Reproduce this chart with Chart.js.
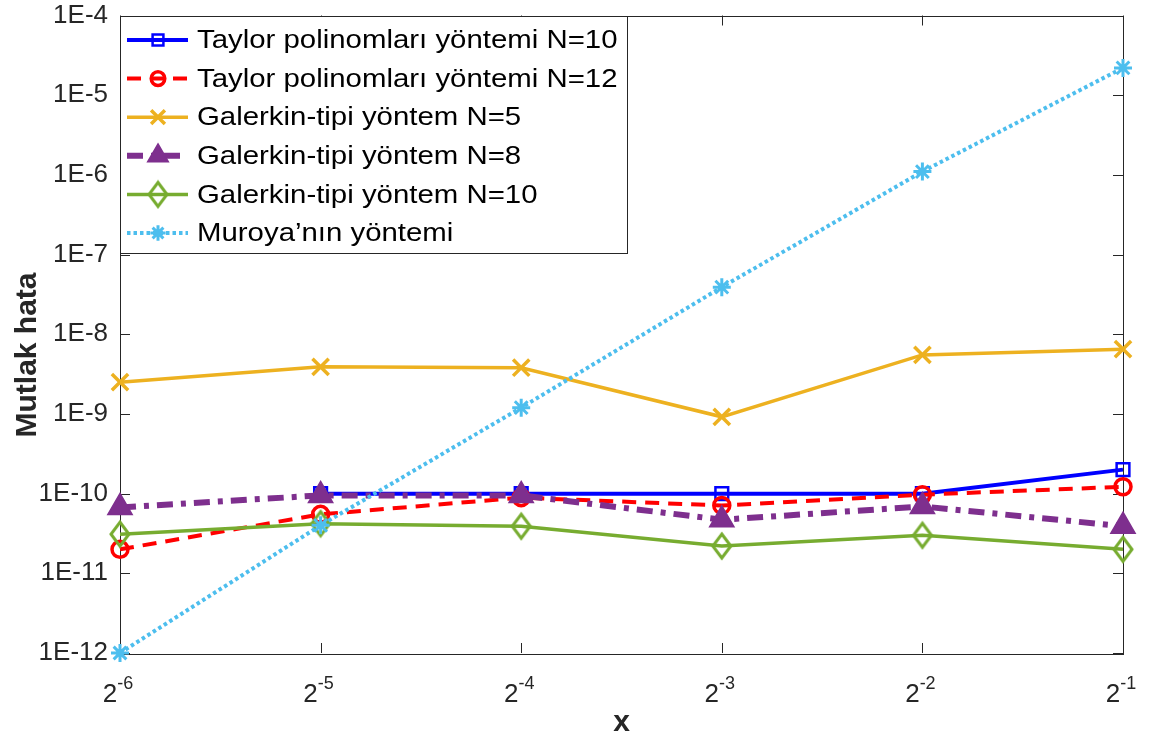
<!DOCTYPE html>
<html>
<head>
<meta charset="utf-8">
<script src="https://cdn.jsdelivr.net/npm/chart.js@4/dist/chart.umd.min.js"></script>
<style>
  html, body { margin: 0; padding: 0; background: #ffffff; }
  #wrap { width: 1152px; height: 740px; }
</style>
</head>
<body>
<div id="wrap"><canvas id="c" width="1152" height="740"></canvas></div>
<script>
// x positions are powers of two: 2^-6 ... 2^-1
const xExponents = [-6, -5, -4, -3, -2, -1];
const xLabels = xExponents.map(e => '2^' + e);
// decade ticks on the error axis: 1E-12 ... 1E-4
const yTickExponents = [-12, -11, -10, -9, -8, -7, -6, -5, -4];

// absolute error of each method at the sample points
const taylorN10   = [null,    1.0e-10, 1.0e-10, 1.0e-10, 1.0e-10, 2.0e-10];
const taylorN12   = [2.0e-11, 5.5e-11, 8.9e-11, 7.1e-11, 9.7e-11, 1.22e-10];
const galerkinN5  = [2.5e-9,  3.9e-9,  3.8e-9,  9.2e-10, 5.5e-9,  6.5e-9];
const galerkinN8  = [6.7e-11, 9.5e-11, 9.5e-11, 4.7e-11, 6.9e-11, 3.9e-11];
const galerkinN10 = [3.1e-11, 4.2e-11, 3.9e-11, 2.2e-11, 3.0e-11, 2.0e-11];
const muroya      = [1.0e-12, 4.0e-11, 1.2e-9,  3.9e-8,  1.1e-6,  2.2e-5];

const seriesNames = [
  'Taylor polinomları yöntemi N=10',
  'Taylor polinomları yöntemi N=12',
  'Galerkin-tipi yöntem N=5',
  'Galerkin-tipi yöntem N=8',
  'Galerkin-tipi yöntem N=10',
  'Muroya’nın yöntemi'
];

const FONT = "'Liberation Sans', Arial, Helvetica, sans-serif";
const AXIS_COLOR = '#262626';
const NONE = 'rgba(0,0,0,0)';

// tall hollow diamond marker
function makeDiamond(color, w, h, lw) {
  const c = document.createElement('canvas');
  c.width = w + lw * 2; c.height = h + lw * 2;
  const g = c.getContext('2d');
  const cx = c.width / 2, cy = c.height / 2;
  g.strokeStyle = color; g.lineWidth = lw; g.lineJoin = 'miter';
  g.beginPath();
  g.moveTo(cx, cy - h / 2); g.lineTo(cx + w / 2, cy); g.lineTo(cx, cy + h / 2); g.lineTo(cx - w / 2, cy);
  g.closePath(); g.stroke();
  return c;
}
const diamondImg = makeDiamond('#77AC30', 18, 24, 3);

const styles = [
  { color: '#0000FF', width: 4,   dash: [],              marker: 'rect',     radius: 9,    fill: false, mw: 2.5 },
  { color: '#FF0000', width: 4,   dash: [14, 9],         marker: 'circle',   radius: 8,    fill: false, mw: 3.5 },
  { color: '#EDB120', width: 3.5, dash: [],              marker: 'crossRot', radius: 11.5, fill: false, mw: 3.5 },
  { color: '#7E2F8E', width: 6,   dash: [16, 8, 5, 8],   marker: 'triangle', radius: 14,   fill: true,  mw: 1.5 },
  { color: '#77AC30', width: 3.5, dash: [],              marker: diamondImg, radius: 12,   fill: false, mw: 3 },
  { color: '#4DBEEE', width: 4,   dash: [3.5, 3],        marker: 'star',     radius: 9,    fill: false, mw: 3 }
];
const seriesData = [taylorN10, taylorN12, galerkinN5, galerkinN8, galerkinN10, muroya];

const datasets = seriesData.map((d, i) => {
  const s = styles[i];
  return {
    label: seriesNames[i],
    data: d,
    order: seriesData.length - i,
    borderColor: s.color,
    borderWidth: s.width,
    borderDash: s.dash,
    borderCapStyle: 'butt',
    tension: 0,
    fill: false,
    clip: false,
    spanGaps: false,
    pointStyle: s.marker,
    pointRadius: s.radius,
    pointBorderWidth: s.mw,
    pointBorderColor: s.color,
    pointBackgroundColor: s.fill ? s.color : NONE,
    pointHoverRadius: s.radius
  };
});

// box, inward tick marks and axis titles
const framePlugin = {
  id: 'frame',
  beforeDatasetsDraw(chart) {
    const { ctx, chartArea: a, scales } = chart;
    ctx.save();
    ctx.strokeStyle = AXIS_COLOR;
    ctx.lineWidth = 1;
    ctx.setLineDash([]);
    ctx.strokeRect(Math.round(a.left) + 0.5, Math.round(a.top) + 0.5,
                   Math.round(a.right - a.left), Math.round(a.bottom - a.top));
    const tl = 10;
    ctx.beginPath();
    xLabels.forEach((_, i) => {
      const x = Math.round(scales.x.getPixelForValue(i)) + 0.5;
      ctx.moveTo(x, a.bottom); ctx.lineTo(x, a.bottom - tl);
      ctx.moveTo(x, a.top); ctx.lineTo(x, a.top + tl);
    });
    yTickExponents.forEach(e => {
      const y = Math.round(scales.y.getPixelForValue(Math.pow(10, e))) + 0.5;
      ctx.moveTo(a.left, y); ctx.lineTo(a.left + tl, y);
      ctx.moveTo(a.right, y); ctx.lineTo(a.right - tl, y);
    });
    ctx.stroke();
    ctx.restore();
  },
  afterDraw(chart) {
    const { ctx, chartArea: a, scales } = chart;
    ctx.save();
    ctx.fillStyle = AXIS_COLOR;
    // x tick labels written as powers of two
    xExponents.forEach((e, i) => {
      const x = scales.x.getPixelForValue(i);
      ctx.font = '26px ' + FONT;
      const wb = ctx.measureText('2').width;
      ctx.font = '18px ' + FONT;
      const we = ctx.measureText(String(e)).width;
      const x0 = x - (wb + we) / 2 - 2;
      ctx.textAlign = 'left';
      ctx.textBaseline = 'alphabetic';
      ctx.font = '26px ' + FONT;
      ctx.fillText('2', x0, 702);
      ctx.font = '18px ' + FONT;
      ctx.fillText(String(e), x0 + wb, 689);
    });
    // axis titles
    ctx.font = 'bold 30px ' + FONT;
    ctx.textAlign = 'center';
    ctx.textBaseline = 'alphabetic';
    ctx.fillText('x', (a.left + a.right) / 2, 731);
    ctx.translate(36, 355);
    ctx.rotate(-Math.PI / 2);
    ctx.fillText('Mutlak hata', 0, 0);
    ctx.restore();
  }
};

function drawMarker(ctx, style, r, x, y) {
  ctx.beginPath();
  if (typeof style !== 'string') {
    ctx.drawImage(style, x - style.width / 2, y - style.height / 2);
    return false;
  }
  switch (style) {
    case 'rect': {
      const s = r * Math.SQRT1_2;
      ctx.rect(x - s, y - s, 2 * s, 2 * s);
      break;
    }
    case 'circle':
      ctx.arc(x, y, r, 0, Math.PI * 2);
      break;
    case 'crossRot': {
      const s = r * Math.SQRT1_2;
      ctx.moveTo(x - s, y - s); ctx.lineTo(x + s, y + s);
      ctx.moveTo(x - s, y + s); ctx.lineTo(x + s, y - s);
      break;
    }
    case 'triangle': {
      for (let k = 0; k < 3; k++) {
        const ang = -Math.PI / 2 + k * 2 * Math.PI / 3;
        const px = x + Math.cos(ang) * r, py = y + Math.sin(ang) * r;
        if (k === 0) ctx.moveTo(px, py); else ctx.lineTo(px, py);
      }
      ctx.closePath();
      break;
    }
    case 'star': {
      for (let k = 0; k < 4; k++) {
        const ang = k * Math.PI / 4;
        ctx.moveTo(x - Math.cos(ang) * r, y - Math.sin(ang) * r);
        ctx.lineTo(x + Math.cos(ang) * r, y + Math.sin(ang) * r);
      }
      break;
    }
  }
  return true;
}

// legend box in the upper-left corner of the plot
const legendPlugin = {
  id: 'boxLegend',
  afterDatasetsDraw(chart) {
    const { ctx, chartArea: a } = chart;
    const left = Math.round(a.left) + 0.5, top = Math.round(a.top) + 0.5;
    const w = 507, h = 237;
    ctx.save();
    ctx.fillStyle = '#ffffff';
    ctx.fillRect(left, top, w, h);
    ctx.strokeStyle = AXIS_COLOR;
    ctx.lineWidth = 1;
    ctx.strokeRect(left, top, w, h);
    chart.data.datasets.forEach((ds, i) => {
      const s = styles[i];
      const y = a.top + 24.5 + i * 38.6;
      ctx.strokeStyle = s.color;
      ctx.lineWidth = s.width;
      ctx.lineCap = 'butt';
      ctx.setLineDash(s.dash);
      ctx.beginPath();
      ctx.moveTo(a.left + 7, y);
      ctx.lineTo(a.left + 68, y);
      ctx.stroke();
      ctx.setLineDash([]);
      ctx.lineWidth = s.mw;
      if (drawMarker(ctx, s.marker, s.radius * 0.85, a.left + 38, y)) {
        if (s.fill) { ctx.fillStyle = s.color; ctx.fill(); }
        ctx.stroke();
      }
      ctx.fillStyle = '#000000';
      ctx.font = '26px ' + FONT;
      ctx.textAlign = 'left';
      ctx.textBaseline = 'middle';
      ctx.save();
      ctx.translate(a.left + 77, y + 1);
      ctx.scale(1.13, 1);
      ctx.fillText(ds.label, 0, 0);
      ctx.restore();
    });
    ctx.restore();
  }
};

new Chart(document.getElementById('c').getContext('2d'), {
  type: 'line',
  data: { labels: xLabels, datasets: datasets },
  options: {
    responsive: false,
    animation: false,
    devicePixelRatio: 1,
    layout: { padding: { top: 13, right: 29, left: 0, bottom: 0 } },
    plugins: { legend: { display: false }, tooltip: { enabled: false } },
    scales: {
      x: {
        type: 'category',
        offset: false,
        grid: { display: false, drawTicks: false },
        border: { display: false },
        ticks: { display: false },
        afterFit(s) { s.height = 87; }
      },
      y: {
        type: 'logarithmic',
        min: 1e-12,
        max: 1e-4,
        grid: { display: false, drawTicks: false },
        border: { display: false },
        afterBuildTicks(s) {
          s.ticks = yTickExponents.map(e => ({ value: Math.pow(10, e) }));
        },
        ticks: {
          autoSkip: false,
          padding: 12,
          color: AXIS_COLOR,
          // single-line labels: a tiny line height keeps the top/bottom label overhang small
          font: { family: FONT, size: 26, lineHeight: 0.01 },
          callback: v => '1E' + Math.round(Math.log10(v))
        },
        afterFit(s) { s.width = 120; }
      }
    }
  },
  plugins: [framePlugin, legendPlugin]
});
</script>
</body>
</html>
